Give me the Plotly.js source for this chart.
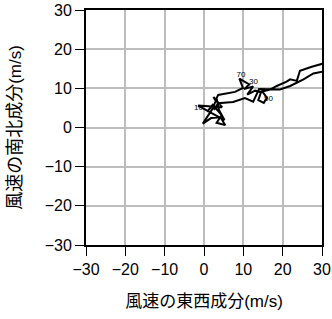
<!DOCTYPE html>
<html><head><meta charset="utf-8">
<script src="https://cdn.plot.ly/plotly-3.0.1.min.js"></script>
<style>html,body{margin:0;padding:0;background:#fff}#chart{width:332px;height:319px}</style>
</head><body><div id="chart"></div>
<script>
// hodograph wind components (m/s)
var windU = [0.8, 2.2, 4.5, 3.2, 5.4, 4.2, 1.8, -0.3, 2.0, 3.0, 2.4, 4.6, -1.5, 5.2, 3.8, 3.2, 3.6,
  7.9, 9.9, 9.0, 11.5, 10.2, 12.5, 11.0, 13.0, 14.5, 13.8, 15.2, 16.0, 14.8, 16.8, 18.5, 21.0, 21.9,
  23.6, 24.0, 24.4, 27.4, 30.0, 32.0, 32.0, 30.0, 27.8, 25.3, 21.9, 19.3, 17.6, 14.0, 12.5, 10.4, 7.4, 3.6, 2.5];
var windV = [4.0, 5.8, 3.2, 1.2, 0.6, 2.6, 2.4, 1.0, 4.5, 6.8, 7.8, 5.2, 5.6, 1.9, 4.5, 7.5, 8.3,
  9.1, 10.1, 12.5, 11.0, 9.8, 10.5, 8.4, 9.4, 9.0, 7.0, 6.3, 7.6, 9.2, 9.7, 10.6, 11.7, 12.3,
  11.9, 13.4, 14.5, 15.5, 16.2, 16.8, 14.6, 14.2, 13.8, 12.3, 10.6, 9.7, 9.7, 9.8, 6.6, 7.5, 6.5, 6.2, 4.5];
var labelText = ["10", "30", "50", "70"];
var labelU = [-1.4, 12.6, 16.4, 9.4];
var labelV = [4.9, 11.6, 7.4, 13.3];
var tickVals = [-30, -20, -10, 0, 10, 20, 30];

var traces = [
  {x: windU, y: windV, mode: 'lines', line: {color: '#000', width: 2}, hoverinfo: 'none'},
  {x: labelU, y: labelV, mode: 'text', text: labelText, textfont: {size: 8, color: '#000', family: 'Liberation Sans'}, cliponaxis: false, hoverinfo: 'none'}
];
var ax = {
  range: [-30, 30], tickvals: tickVals, ticks: 'outside', ticklen: 9, tickwidth: 1, tickcolor: '#000',
  showline: true, linecolor: '#000', linewidth: 2, mirror: true,
  showgrid: true, gridcolor: '#bdbdbd', gridwidth: 2, zeroline: false,
  tickfont: {family: 'Liberation Sans, Arial, sans-serif', size: 16, color: '#000'}
};
var layout = {
  width: 332, height: 319, showlegend: false,
  margin: {l: 86, r: 10, t: 10, b: 74},
  paper_bgcolor: '#fff', plot_bgcolor: '#fff',
  font: {family: 'Noto Sans CJK JP, sans-serif', color: '#000'},
  xaxis: Object.assign({}, ax, {title: {text: '風速の東西成分<span style="font-family:Liberation Sans;font-size:17px">(m/s)</span>', font: {size: 17, family: 'Noto Sans CJK JP'}, standoff: 18}}),
  yaxis: Object.assign({}, ax, {title: {text: '風速の南北成分<span style="font-family:Liberation Sans;font-size:17px">(m/s)</span>', font: {size: 18, family: 'Noto Sans CJK JP'}, standoff: 21}})
};
Plotly.newPlot('chart', traces, layout, {staticPlot: true, displayModeBar: false});
</script></body></html>
